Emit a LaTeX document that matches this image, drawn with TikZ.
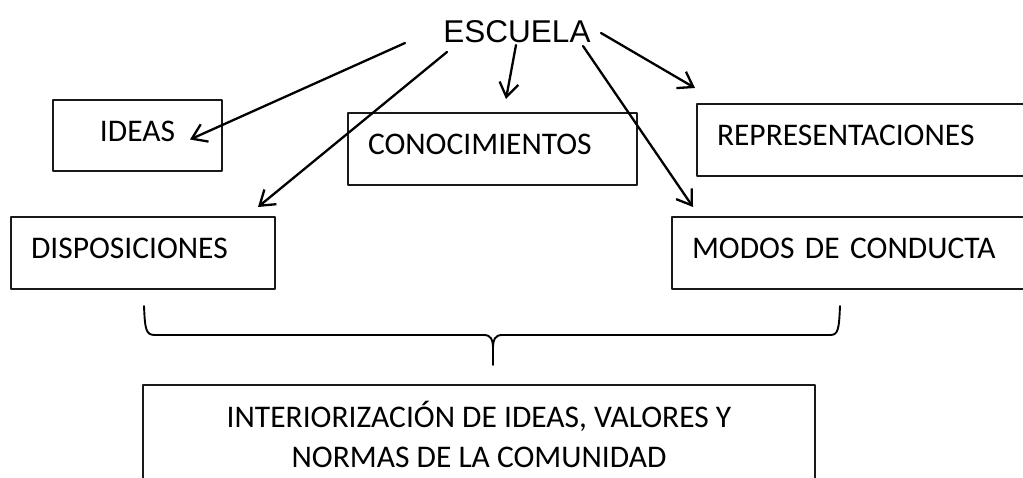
\documentclass[tikz,border=0pt]{standalone}
\usepackage{fontspec}
\setmainfont{Carlito}
\newfontfamily\arialfont{Liberation Sans}
\usetikzlibrary{arrows.meta}

\begin{document}
\begin{tikzpicture}[x=1pt,y=-1pt,>={Straight Barb[length=14pt,width=19pt]}, line join=round, line cap=round,
  caja/.style={draw=black!90, line width=1.9pt, anchor=north west, outer sep=0pt, inner ysep=0pt, inner xsep=20pt,
    align=left, text height=41pt, text depth=31pt, font=\fontsize{31.5}{38}\selectfont},
  flecha/.style={->, line width=2.3pt}]
\clip (0,0) rectangle (1023,477);
\node[font=\arialfont\fontsize{31.5}{38}\selectfont, inner sep=0pt] (escuela) at (517,32) {ESCUELA};
\node[caja, text width=129pt, align=center, text depth=30pt] (ideas) at (53,100) {IDEAS};
\node[caja, text width=249pt] (cono) at (348,113) {CONOCIMIENTOS};
\node[caja, text width=320pt] (repr) at (697,104) {REPRESENTACIONES};
\node[caja, text width=224pt] (disp) at (11,217) {DISPOSICIONES};
\node[caja, text width=340pt] (modos) at (672,217) {MODOS DE CONDUCTA};
% flechas desde ESCUELA
\draw[flecha] ([xshift=-112pt,yshift=-11pt]escuela.center) -- ([xshift=-32pt,yshift=-4pt]ideas.east);
\draw[flecha] ([xshift=-70pt,yshift=-20pt]escuela.center) -- ([xshift=-17pt,yshift=10pt]disp.north east);
\draw[flecha] ([xshift=-1pt,yshift=-13pt]escuela.center) -- ([xshift=13.5pt,yshift=14pt]cono.north);
\draw[flecha] ([xshift=66pt,yshift=-14pt]escuela.center) -- ([xshift=21pt,yshift=10pt]modos.north west);
\draw[flecha] ([xshift=84pt,yshift=-1pt]escuela.center) -- ([xshift=-2pt,yshift=16pt]repr.north west);
% llave
\draw[line width=1.9pt] (144,306) .. controls (145,330) and (146,335) .. (155,335) -- (484,335)
  .. controls (491,335) and (493,340) .. (493,347) -- (493,365);
\draw[line width=1.9pt] (493,347) .. controls (493,340) and (495,335) .. (502,335) -- (830,335)
  .. controls (838,335) and (839,330) .. (840,306);
\node[draw=black!90, line width=1.9pt, minimum width=672pt, minimum height=98pt, align=center,
  font=\fontsize{31.5}{40}\selectfont, inner sep=0pt, outer sep=0pt] (interior) at (479,434)
  {INTERIORIZACIÓN DE IDEAS, VALORES Y\\NORMAS DE LA COMUNIDAD};
\end{tikzpicture}
\end{document}
